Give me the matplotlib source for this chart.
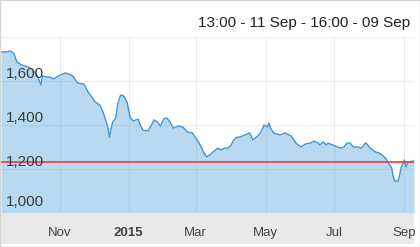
import numpy as np
import matplotlib
matplotlib.use("Agg")
import matplotlib.pyplot as plt
from matplotlib.patches import Rectangle
from matplotlib.transforms import offset_copy

plt.rcParams['font.family'] = ['Liberation Sans', 'DejaVu Sans']

title = "13:00 - 11 Sep - 16:00 - 09 Sep"

dates = [
    "2014-09-11", "2014-09-16", "2014-09-19", "2014-09-23", "2014-09-25", "2014-09-30",
    "2014-10-06", "2014-10-09", "2014-10-14", "2014-10-16", "2014-10-17", "2014-10-22",
    "2014-10-24", "2014-10-28", "2014-10-30", "2014-11-03", "2014-11-06", "2014-11-07",
    "2014-11-13", "2014-11-18", "2014-11-24", "2014-11-27", "2014-12-01", "2014-12-03",
    "2014-12-08", "2014-12-10", "2014-12-15", "2014-12-16", "2014-12-18", "2014-12-22",
    "2014-12-23", "2014-12-25", "2014-12-29", "2014-12-31", "2015-01-02", "2015-01-06",
    "2015-01-09", "2015-01-12", "2015-01-14", "2015-01-19", "2015-01-21", "2015-01-23",
    "2015-01-27", "2015-01-29", "2015-02-02", "2015-02-04", "2015-02-06", "2015-02-10",
    "2015-02-13", "2015-02-18", "2015-02-23", "2015-02-26", "2015-03-03", "2015-03-05",
    "2015-03-09", "2015-03-11", "2015-03-13", "2015-03-17", "2015-03-20", "2015-03-24",
    "2015-03-26", "2015-03-30", "2015-04-01", "2015-04-03", "2015-04-07", "2015-04-09",
    "2015-04-14", "2015-04-17", "2015-04-21", "2015-04-24", "2015-04-28", "2015-04-30",
    "2015-05-04", "2015-05-05", "2015-05-06", "2015-05-08", "2015-05-12", "2015-05-14",
    "2015-05-19", "2015-05-25", "2015-05-28", "2015-06-02", "2015-06-05", "2015-06-10",
    "2015-06-12", "2015-06-17", "2015-06-18", "2015-06-22", "2015-06-24", "2015-06-25",
    "2015-06-30", "2015-07-03", "2015-07-07", "2015-07-09", "2015-07-13", "2015-07-15",
    "2015-07-17", "2015-07-22", "2015-07-24", "2015-07-28", "2015-07-29", "2015-07-31",
    "2015-08-04", "2015-08-06", "2015-08-10", "2015-08-12", "2015-08-14", "2015-08-18",
    "2015-08-20", "2015-08-21", "2015-08-24", "2015-08-26", "2015-08-27", "2015-08-28",
    "2015-09-01", "2015-09-02", "2015-09-03", "2015-09-04", "2015-09-08", "2015-09-09",
]
prices = [
    1732, 1732, 1736, 1727, 1686, 1673,
    1664, 1650, 1623, 1582, 1623, 1618,
    1618, 1609, 1618, 1627, 1636, 1636,
    1623, 1591, 1586, 1545, 1527, 1505,
    1491, 1459, 1391, 1345, 1414, 1432,
    1491, 1536, 1532, 1505, 1436, 1418,
    1427, 1405, 1377, 1373, 1395, 1423,
    1414, 1395, 1427, 1432, 1414, 1386,
    1395, 1391, 1368, 1364, 1332, 1309,
    1277, 1255, 1264, 1277, 1295, 1286,
    1295, 1295, 1305, 1332, 1345, 1345,
    1355, 1364, 1332, 1350, 1368, 1400,
    1391, 1409, 1386, 1364, 1359, 1355,
    1364, 1350, 1318, 1300, 1314, 1318,
    1327, 1318, 1309, 1323, 1309, 1318,
    1309, 1300, 1295, 1300, 1318, 1318,
    1300, 1300, 1295, 1314, 1318, 1300,
    1286, 1277, 1273, 1264, 1250, 1227,
    1205, 1164, 1145, 1145, 1173, 1209,
    1241, 1209, 1227, 1232, 1236, 1236,
]
reference_level = 1232

month_starts = ["2014-11-01", "2015-01-01", "2015-03-01", "2015-05-01", "2015-07-01", "2015-09-01"]
month_labels = ["Nov", "2015", "Mar", "May", "Jul", "Sep"]
y_ticks = [1000, 1200, 1400, 1600, 1800]
y_labels = ["1,000", "1,200", "1,400", "1,600", ""]

# ordinal (trading-day) x axis like the original stock chart
start = np.datetime64(dates[0])
x = np.busday_count(start, np.array(dates, dtype="datetime64[D]"))
tick_days = np.busday_offset(np.array(month_starts, dtype="datetime64[D]"), 0, roll="forward")
tick_x = np.busday_count(start, tick_days)

W, H = 420, 247
fig = plt.figure(figsize=(W / 100, H / 100), dpi=100)
ax = fig.add_axes([1 / W, 1 - 213 / H, 413 / W, 176 / H])
ax.set_zorder(2)
ax.patch.set_alpha(0)

# axis band under the plot
fig.patches.append(Rectangle((1 / W, 1 - 244 / H), 413 / W, 30 / H, transform=fig.transFigure,
                             facecolor="#e9e9e9", edgecolor="none", zorder=0))
fig.patches.append(Rectangle((0, 0), 1, 1, transform=fig.transFigure, fill=False,
                             edgecolor="#d4d4d4", linewidth=1.0, zorder=5))

line_color = "#3d96d8"
ax.fill_between(x, prices, 1000, color=line_color, alpha=0.36, linewidth=0, zorder=2)
ax.plot(x, prices, color=line_color, linewidth=1.0, zorder=3)
ax.axhline(reference_level, color="#e63c44", linewidth=1.2, zorder=4)

ax.set_xlim(x[0], x[-1])
ax.set_ylim(1000, 1800)
ax.set_xticks(tick_x)
ax.set_xticklabels(month_labels, fontsize=9.5, color="#444444")
ax.get_xticklabels()[1].set_fontweight("bold")
ax.set_yticks(y_ticks)
ax.set_yticklabels([])
ax.tick_params(length=0, pad=10)
ax.grid(True, color="#eeeeee", linewidth=0.8, zorder=0)
ax.set_axisbelow(True)
for s in ax.spines.values():
    s.set_visible(False)

for val, lab in zip(y_ticks, y_labels):
    off = -11 if val == 1000 else -7.5
    tr = offset_copy(ax.get_yaxis_transform(), fig=fig, x=5, y=-off, units="dots")
    ax.text(0, val, lab, transform=tr, ha="left", va="center", fontsize=11,
            color="#3c3c3c", zorder=5)

fig.text(410 / W, 1 - 23 / H, title, ha="right", va="center", fontsize=11, color="#222222")

fig.savefig("out.png", dpi=100)
